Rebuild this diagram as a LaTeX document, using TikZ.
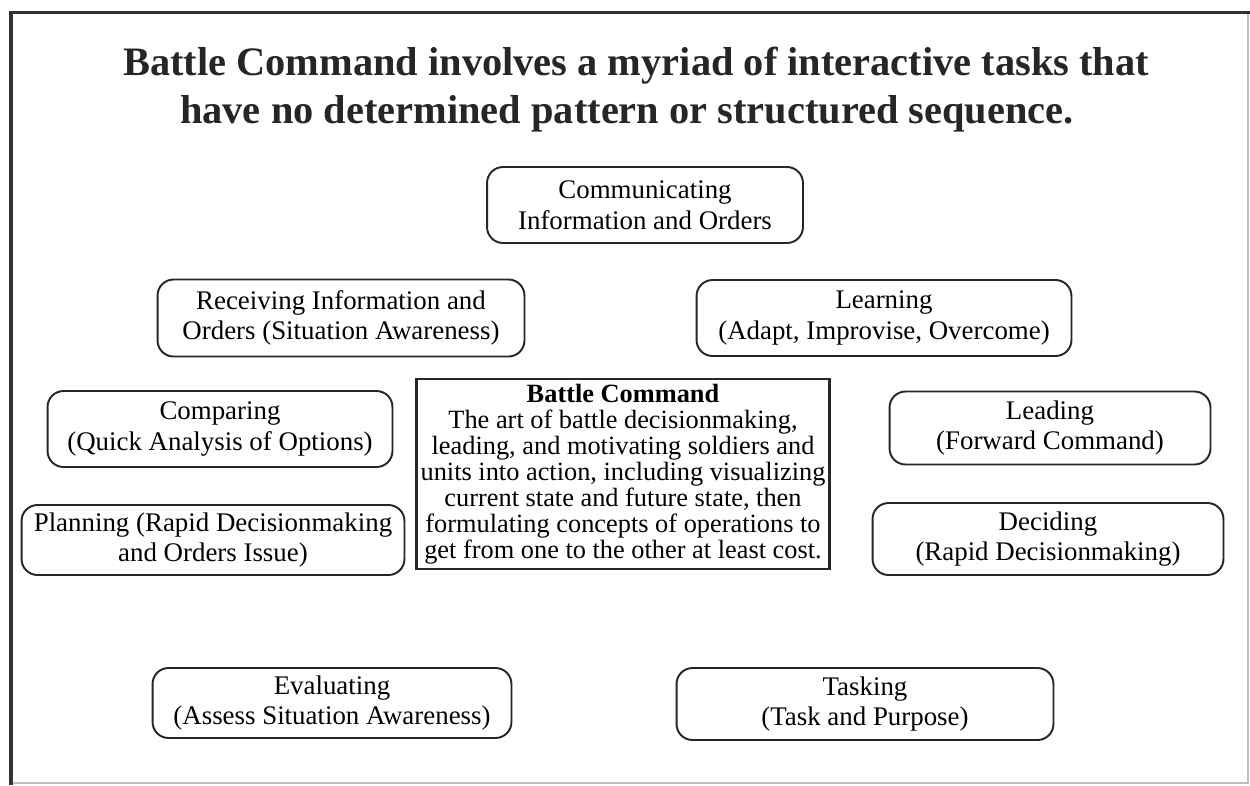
\documentclass[tikz,border=0pt]{standalone}
\usepackage{fontspec}
\setmainfont{Liberation Serif}

\begin{document}
\begin{tikzpicture}[x=0.02cm, y=-0.02cm,
    task/.style={draw=black!85, line width=1.1pt, rounded corners=0.32cm, align=center,
      inner sep=0pt, font=\fontsize{15.3}{17.5}\selectfont},
    core/.style={draw=black!85, line width=1.2pt, align=center, inner sep=0pt,
      minimum width=8.26cm, minimum height=3.8cm, font=\fontsize{15}{14.8}\selectfont},
    headline/.style={anchor=base, font=\fontsize{23}{27}\selectfont\bfseries, text=black!85}]

  \useasboundingbox (0,0) rectangle (1250,785);

  % page frame
  \draw[black!80, line width=2.2pt] (11,785) -- (11,12.5) -- (1250,12.5);
  \draw[black!25, line width=0.6pt] (1248,14) -- (1248,783) -- (13,783);

  % heading
  \node[headline] (title1) at (636,75) {Battle Command involves a myriad of interactive tasks that};
  \node[headline] (title2) at (627,123) {have no determined pattern or structured sequence.};

  % centre box
  \node[core] (bc) at (623,474) {\textbf{Battle Command}\\
    The art of battle decisionmaking,\\
    leading, and motivating soldiers and\\
    units into action, including visualizing\\
    current state and future state, then\\
    formulating concepts of operations to\\
    get from one to the other at least cost.};

  % tasks round it
  \node[task, minimum width=6.32cm, minimum height=1.52cm] (comm) at (645,205)
    {Communicating\\Information and Orders};
  \node[task, minimum width=7.34cm, minimum height=1.54cm] (recv) at (341,318)
    {Receiving Information and\\Orders (Situation Awareness)};
  \node[task, minimum width=7.5cm, minimum height=1.52cm] (learn) at (884,318)
    {Learning\\(Adapt, Improvise, Overcome)};
  \node[task, minimum width=6.9cm, minimum height=1.52cm] (comp) at (220,429)
    {Comparing\\(Quick Analysis of Options)};
  \node[task, minimum width=6.42cm, minimum height=1.46cm] (lead) at (1050,428)
    {Leading\\(Forward Command)};
  \node[task, minimum width=7.66cm, minimum height=1.40cm] (plan) at (213,540)
    {Planning (Rapid Decisionmaking\\and Orders Issue)};
  \node[task, minimum width=7.02cm, minimum height=1.44cm] (decide) at (1048,539)
    {Deciding\\(Rapid Decisionmaking)};
  \node[task, minimum width=7.18cm, minimum height=1.40cm] (eval) at (332,703)
    {Evaluating\\(Assess Situation Awareness)};
  \node[task, minimum width=7.54cm, minimum height=1.44cm] (task) at (865,704)
    {Tasking\\(Task and Purpose)};
\end{tikzpicture}
\end{document}
